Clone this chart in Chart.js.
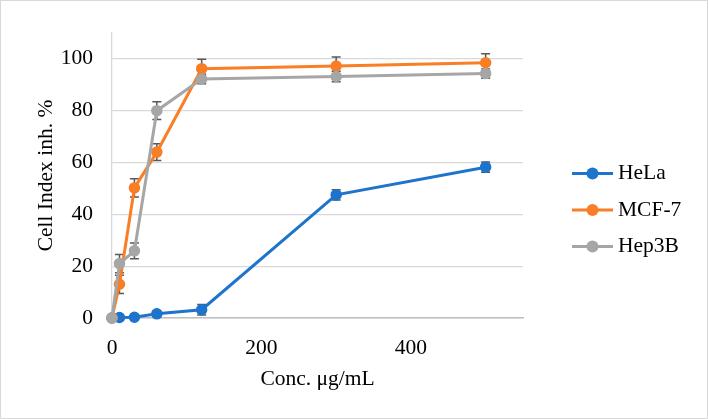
<!DOCTYPE html>
<html>
<head>
<meta charset="utf-8">
<script src="https://cdn.jsdelivr.net/npm/chart.js@4/dist/chart.umd.min.js"></script>
<style>
  html, body { margin: 0; padding: 0; background: #fff; }
  #wrap { position: relative; width: 708px; height: 419px; box-sizing: border-box; border: 1px solid #d9d9d9; }
  canvas { display: block; }
</style>
</head>
<body>
<div id="wrap"><canvas id="c"></canvas></div>
<script>
// ---- data ----
const concentrations = [0, 10, 30, 60, 120, 300, 500];
const seriesNames = ["HeLa", "MCF-7", "Hep3B"];
const helaValues  = [0, 0.2, 0.3, 1.6, 3.2, 47.5, 58.2];
const mcf7Values  = [0, 13, 50.2, 64, 96.2, 97.2, 98.5];
const hep3bValues = [0, 21, 25.9, 80, 92.2, 93.2, 94.3];
const helaErrors  = [0, 0.5, 0.5, 1, 2, 2, 2];
const mcf7Errors  = [0, 3.5, 3.5, 3.2, 3.6, 3.5, 3.5];
const hep3bErrors = [0, 3.5, 3.0, 3.4, 1.8, 2.0, 1.8];
const xTickValues = [0, 200, 400];
const yTickValues = [0, 20, 40, 60, 80, 100];

const colors = ["#1E74CC", "#F97E25", "#A6A6A6"];
const FONT = "'Liberation Serif', 'Times New Roman', serif";
const FS = 21.5;

function pts(vals) { return concentrations.map((x, i) => ({ x: x, y: vals[i] })); }

const allValues = [helaValues, mcf7Values, hep3bValues];
const allErrors = [helaErrors, mcf7Errors, hep3bErrors];

const datasets = seriesNames.map((name, i) => ({
  label: name,
  data: pts(allValues[i]),
  errors: allErrors[i],
  borderColor: colors[i],
  backgroundColor: colors[i],
  pointBackgroundColor: colors[i],
  pointBorderColor: colors[i],
  pointRadius: 5,
  pointBorderWidth: 1.5,
  borderWidth: 3,
  tension: 0,
  clip: false,
  order: 3 - i
}));

const errorBars = {
  id: 'errorBars',
  beforeDatasetsDraw(chart) {
    const ctx = chart.ctx;
    const xs = chart.scales.x, ys = chart.scales.y;
    ctx.save();
    ctx.strokeStyle = '#595959';
    ctx.lineWidth = 1.5;
    chart.data.datasets.forEach(ds => {
      ds.data.forEach((p, j) => {
        const e = ds.errors[j];
        if (!e) return;
        const px = xs.getPixelForValue(p.x);
        const y1 = ys.getPixelForValue(p.y + e);
        const y2 = ys.getPixelForValue(p.y - e);
        ctx.beginPath();
        ctx.moveTo(px, y1); ctx.lineTo(px, y2);
        ctx.moveTo(px - 4.5, y1); ctx.lineTo(px + 4.5, y1);
        ctx.moveTo(px - 4.5, y2); ctx.lineTo(px + 4.5, y2);
        ctx.stroke();
      });
    });
    ctx.restore();
  }
};

const sideLegend = {
  id: 'sideLegend',
  afterDraw(chart) {
    const ctx = chart.ctx;
    const area = chart.chartArea;
    const x0 = area.right + 49;
    const spacing = 36.5;
    const n = chart.data.datasets.length;
    const yc = chart.height / 2 - (n - 1) * spacing / 2 + 0.5;
    ctx.save();
    ctx.font = FS + "px " + FONT;
    ctx.textBaseline = 'middle';
    ctx.textAlign = 'left';
    chart.data.datasets.forEach((ds, i) => {
      const y = yc + i * spacing;
      ctx.strokeStyle = ds.borderColor;
      ctx.lineWidth = 3;
      ctx.beginPath(); ctx.moveTo(x0, y); ctx.lineTo(x0 + 41, y); ctx.stroke();
      ctx.fillStyle = ds.borderColor;
      ctx.beginPath(); ctx.arc(x0 + 20.5, y, 6, 0, Math.PI * 2); ctx.fill();
      ctx.fillStyle = '#000';
      ctx.fillText(ds.label, x0 + 46, y);
    });
    ctx.restore();
  }
};

new Chart(document.getElementById('c'), {
  type: 'line',
  data: { datasets: datasets },
  options: {
    responsive: true,
    maintainAspectRatio: false,
    animation: false,
    layout: { padding: { top: 27, right: 184, bottom: 0, left: 0 } },
    plugins: { legend: { display: false }, tooltip: { enabled: false } },
    scales: {
      x: {
        type: 'linear',
        min: 0, max: 550,
        afterBuildTicks: s => { s.ticks = xTickValues.map(v => ({ value: v })); },
        afterFit: s => { s.height = 100; },
        grid: { display: false, drawTicks: false },
        border: { display: true, color: '#bfbfbf', width: 1.5 },
        ticks: { color: '#000', padding: 17, font: { family: FONT, size: FS }, maxRotation: 0 },
        title: { display: true, text: 'Conc. μg/mL', color: '#000', font: { family: FONT, size: FS }, padding: { top: 0, bottom: 26 } }
      },
      y: {
        type: 'linear',
        min: 0, max: 110,
        afterBuildTicks: s => { s.ticks = yTickValues.map(v => ({ value: v })); },
        afterFit: s => { s.width = 111; },
        grid: { color: '#d9d9d9', lineWidth: 1.3, drawTicks: false },
        border: { display: true, color: '#d9d9d9', width: 1.3 },
        ticks: { color: '#000', padding: 19, font: { family: FONT, size: FS } },
        title: { display: true, text: 'Cell Index inh. %', color: '#000', font: { family: FONT, size: FS }, padding: { top: 32, bottom: 0 } }
      }
    }
  },
  plugins: [errorBars, sideLegend]
});
</script>
</body>
</html>
